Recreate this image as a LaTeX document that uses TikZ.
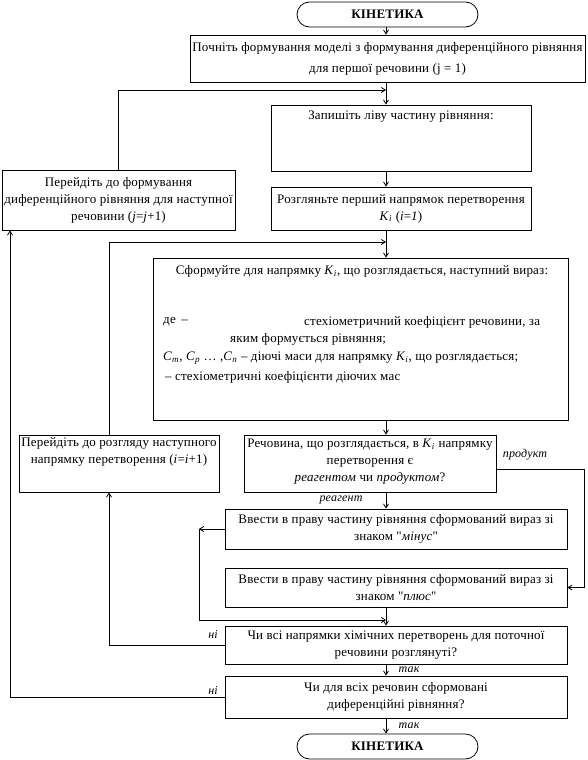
\documentclass[tikz,border=0pt]{standalone}
\usepackage{fontspec}
\setmainfont{Liberation Serif}[Ligatures=TeXOff,LetterSpace=1.5]
\usetikzlibrary{arrows.meta,shapes.misc}
\begin{document}
\begin{tikzpicture}[x=1pt,y=-1pt,
  every node/.style={font=\fontsize{13}{17}\selectfont, inner sep=0pt},
  box/.style={draw, line width=0.8pt, rectangle, align=center},
  term/.style={draw, line width=0.8pt, rounded rectangle, minimum width=181pt, minimum height=25pt, font=\fontsize{13}{17}\selectfont\bfseries},
  txt/.style={align=center},
  lbl/.style={font=\fontsize{12}{14}\selectfont\itshape},
  arr/.style={line width=0.8pt, -{Straight Barb[length=4pt,width=5pt]}},
  ln/.style={line width=0.8pt}]
\useasboundingbox (0,0) rectangle (587,760);
\coordinate (cx) at (386,0);
\coordinate (rr) at (584,0);
\coordinate (lx) at (109,0);
\coordinate (lx2) at (10,0);
% nodes
\node[term] (T1) at (387.5,14.5) {КІНЕТИКА};
\node[box, minimum width=395pt, minimum height=47pt, font=\fontsize{13}{21}\selectfont] (B1) at (387.5,58.5)
  {Почніть формування моделі з формування диференційного рівняння\\для першої речовини (j = 1)};
\node[box, minimum width=260pt, minimum height=66pt] (B2) at (401,138) {};
\node[txt] (B2t) at (401,117) {Запишіть ліву частину рівняння:};
\node[box, minimum width=233pt, minimum height=60pt] (Bj) at (118.5,200)
  {Перейдіть до формування\\диференційного рівняння для наступної\\речовини (\textit{j}=\textit{j}+1)};
\node[box, minimum width=260pt, minimum height=43pt] (BR) at (401,208.5)
  {Розгляньте перший напрямок перетворення\\\textit{K}\textsubscript{\textit{i}} (\textit{i}=\textit{1})};
\node[box, minimum width=415pt, minimum height=162pt] (BS) at (360.5,339) {};
\node[txt] (S1) at (362,271) {Сформуйте для напрямку \textit{K}\textsubscript{\textit{i}}, що розглядається, наступний вираз:};
\node[anchor=west] (S2) at (163,322) {де \,–};
\node[anchor=west] (S3) at (304,322) {стехіометричний коефіцієнт речовини, за};
\node[anchor=west] (S4) at (230,339) {яким формується рівняння;};
\node[anchor=west] (S5) at (163,358) {\textit{C}\textsubscript{\textit{m}}, \textit{C}\textsubscript{\textit{p}} … ,\textit{C}\textsubscript{\textit{n}} – діючі маси для напрямку \textit{K}\textsubscript{\textit{i}}, що розглядається;};
\node[anchor=west] (S6) at (165,377) {– стехіометричні коефіцієнти діючих мас};
\node[box, minimum width=200pt, minimum height=57pt] (BI) at (119,463.5) {};
\node[txt] (BIt) at (119,452) {Перейдіть до розгляду наступного\\напрямку перетворення (\textit{i}=\textit{i}+1)};
\node[box, minimum width=252pt, minimum height=57pt] (BQ) at (370,463.5) {};
\node[txt] (BQt) at (370,462) {Речовина, що розглядається, в \textit{K}\textsubscript{\textit{i}} напрямку\\перетворення є\\\textit{реагентом} чи \textit{продуктом}?};
\node[box, minimum width=342pt, minimum height=40pt] (BM) at (396,529)
  {Ввести в праву частину рівняння сформований вираз зі\\знаком "\textit{мінус}"};
\node[box, minimum width=342pt, minimum height=39pt] (BP) at (396,587.5)
  {Ввести в праву частину рівняння сформований вираз зі\\знаком "\textit{плюс}"};
\node[box, minimum width=342pt, minimum height=38pt] (BC) at (396,645)
  {Чи всі напрямки хімічних перетворень для поточної\\речовини розглянуті?};
\node[box, minimum width=342pt, minimum height=42pt] (BD) at (396,697)
  {Чи для всіх речовин сформовані\\диференційні рівняння?};
\node[term] (T2) at (387.5,746.5) {КІНЕТИКА};
% labels
\node[lbl] (L1) at (525,455) {продукт};
\node[lbl] (L2) at (341,500) {реагент};
\node[lbl] (L3) at (213,635) {ні};
\node[lbl] (L4) at (213,691) {ні};
\node[lbl] (L5) at (409,670) {так};
\node[lbl] (L6) at (409,726) {так};
% connectors
\coordinate (m1) at (386,90);
\coordinate (m2) at (386,242);
\coordinate (l1) at (199,529);
\coordinate (m3) at (386,620);
\draw[arr] (T1.south -| cx) -- (B1.north -| cx);
\draw[arr] (B1.south -| cx) -- (B2.north -| cx);
\draw[arr] (Bj.north) |- (m1);
\draw[arr] (B2.south -| cx) -- (BR.north -| cx);
\draw[arr] (BR.south -| cx) -- (BS.north -| cx);
\draw[arr] (BI.north -| lx) |- (m2);
\draw[arr] (BS.south -| cx) -- (BQ.north -| cx);
\draw[arr] (BQ.south -| cx) -- (BM.north -| cx);
\draw[arr] ([yshift=-5.5pt]BQ.east) -- ([yshift=-5.5pt]BQ.east -| rr) |- (BP.east);
\draw[arr] (BM.west) -- (l1);
\draw[arr] (l1) |- (m3);
\draw[arr] (BP.south -| cx) -- (BC.north -| cx);
\draw[arr] (BC.west) -| (BI.south -| lx);
\draw[arr] (BC.south -| cx) -- (BD.north -| cx);
\draw[arr] (BD.west) -| (Bj.south -| lx2);
\draw[arr] (BD.south -| cx) -- (T2.north -| cx);
\end{tikzpicture}
\end{document}
